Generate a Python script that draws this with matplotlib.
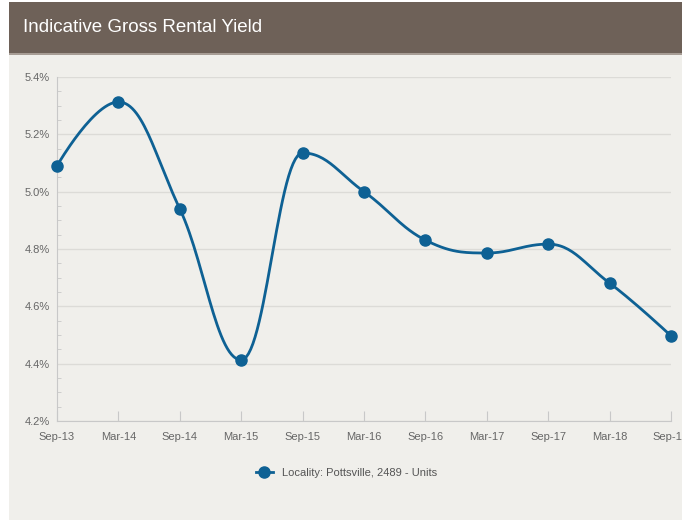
import matplotlib.pyplot as plt
import numpy as np
from matplotlib.patches import Rectangle
from matplotlib.ticker import FuncFormatter
from matplotlib.transforms import Bbox, TransformedBbox

okresy = ['Sep-13', 'Mar-14', 'Sep-14', 'Mar-15', 'Sep-15', 'Mar-16',
          'Sep-16', 'Mar-17', 'Sep-17', 'Mar-18', 'Sep-18']
rentownosc = [5.09, 5.313, 4.94, 4.413, 5.135, 5.0, 4.831, 4.786, 4.817, 4.681, 4.497]
y_ticks = [4.2, 4.4, 4.6, 4.8, 5.0, 5.2, 5.4]

KOLOR_LINII = '#0e6194'
KOLOR_TLA = '#f0efeb'
KOLOR_NAGLOWKA = '#6e6158'
KOLOR_TEKSTU = '#666666'


def krzywa_spline(xs, ys, smoothing=1.5, n=30):
    # wygladzanie w stylu Highcharts (krzywe Beziera)
    xs = np.asarray(xs, float)
    ys = np.asarray(ys, float)
    lx, ly = xs.copy(), ys.copy()
    rx, ry = xs.copy(), ys.copy()
    for i in range(1, len(xs) - 1):
        x, y = xs[i], ys[i]
        px, py = xs[i - 1], ys[i - 1]
        nx, ny = xs[i + 1], ys[i + 1]
        lcx = (smoothing * x + px) / (smoothing + 1)
        lcy = (smoothing * y + py) / (smoothing + 1)
        rcx = (smoothing * x + nx) / (smoothing + 1)
        rcy = (smoothing * y + ny) / (smoothing + 1)
        corr = (rcy - lcy) * (rcx - x) / (rcx - lcx) + y - rcy
        lcy += corr
        rcy += corr
        if lcy > py and lcy > y:
            lcy = max(py, y)
            rcy = 2 * y - lcy
        elif lcy < py and lcy < y:
            lcy = min(py, y)
            rcy = 2 * y - lcy
        if rcy > ny and rcy > y:
            rcy = max(ny, y)
            lcy = 2 * y - rcy
        elif rcy < ny and rcy < y:
            rcy = min(ny, y)
            lcy = 2 * y - rcy
        lx[i], ly[i], rx[i], ry[i] = lcx, lcy, rcx, rcy
    t = np.linspace(0, 1, n)[:, None]
    out = []
    for i in range(len(xs) - 1):
        p0 = np.array([xs[i], ys[i]])
        p1 = np.array([rx[i], ry[i]])
        p2 = np.array([lx[i + 1], ly[i + 1]])
        p3 = np.array([xs[i + 1], ys[i + 1]])
        seg = ((1 - t) ** 3) * p0 + 3 * ((1 - t) ** 2) * t * p1 + 3 * (1 - t) * t ** 2 * p2 + t ** 3 * p3
        out.append(seg)
    out = np.vstack(out)
    return out[:, 0], out[:, 1]


fig = plt.figure(figsize=(6.93, 5.2), dpi=100)
fig.patch.set_facecolor('white')

W, H = 693, 520
# panel tla i naglowek
fig.add_artist(Rectangle((9 / W, 0), 673 / W, 518 / H, transform=fig.transFigure,
                         facecolor=KOLOR_TLA, edgecolor='none', zorder=-2))
fig.add_artist(Rectangle((9 / W, (H - 53) / H), 673 / W, 51 / H, transform=fig.transFigure,
                         facecolor=KOLOR_NAGLOWKA, edgecolor='none', zorder=-1))
fig.add_artist(Rectangle((9 / W, (H - 55) / H), 673 / W, 2 / H, transform=fig.transFigure,
                         facecolor='#a79d95', edgecolor='none', zorder=-1))
fig.text(23 / W, 1 - 28 / H, 'Indicative Gross Rental Yield', color='white',
         fontsize=13.5, va='center', ha='left', family='Liberation Sans')

ax = fig.add_axes([57 / W, 1 - 421 / H, (671 - 57) / W, (421 - 77) / H])
ax.set_facecolor('none')
ax.set_zorder(5)

x = np.arange(len(okresy))
sx, sy = krzywa_spline(x, rentownosc)
ax.plot(sx, sy, color=KOLOR_LINII, linewidth=2, zorder=3, clip_on=False)
ax.plot(x, rentownosc, 'o', color=KOLOR_LINII, markersize=8, zorder=4, clip_on=False)

ax.set_xlim(0, len(okresy) - 1)
ax.set_ylim(4.2, 5.4)
ax.set_yticks(y_ticks)
ax.set_yticks(np.arange(4.2, 5.401, 0.05), minor=True)
ax.yaxis.set_major_formatter(FuncFormatter(lambda v, p: f'{v:.1f}%'))
ax.set_xticks(x)
ax.set_xticklabels(okresy)

ax.grid(axis='y', which='major', color='#dcdbd7', linewidth=1)
ax.set_axisbelow(True)
for s in ['top', 'right']:
    ax.spines[s].set_visible(False)
ax.spines['left'].set_color('#c8c8c8')
ax.spines['bottom'].set_color('#c8c8c8')
ax.tick_params(axis='y', which='minor', length=3, color='#c8c8c8', direction='in')
ax.tick_params(axis='y', which='major', length=0, labelsize=8, labelcolor=KOLOR_TEKSTU, pad=5)
ax.tick_params(axis='x', length=7, color='#c8c8c8', labelsize=8, labelcolor=KOLOR_TEKSTU,
               pad=8, direction='in')

panel = TransformedBbox(Bbox([[9 / W, 0], [682 / W, 1]]), fig.transFigure)
for lab in ax.get_yticklabels() + ax.get_xticklabels():
    lab.set_family('Liberation Sans')
    lab.set_clip_box(panel)
    lab.set_clip_on(True)

# legenda
uchwyt, = ax.plot([], [], '-o', color=KOLOR_LINII, markersize=8, linewidth=2,
                  label='Locality: Pottsville, 2489 - Units')
leg = fig.legend(handles=[uchwyt], loc='center', bbox_to_anchor=(0.5, 1 - 473 / H),
                 frameon=False, handlelength=1.6, fontsize=8)
for t in leg.get_texts():
    t.set_color('#555555')
    t.set_family('Liberation Sans')

fig.savefig('out.png', dpi=100)
